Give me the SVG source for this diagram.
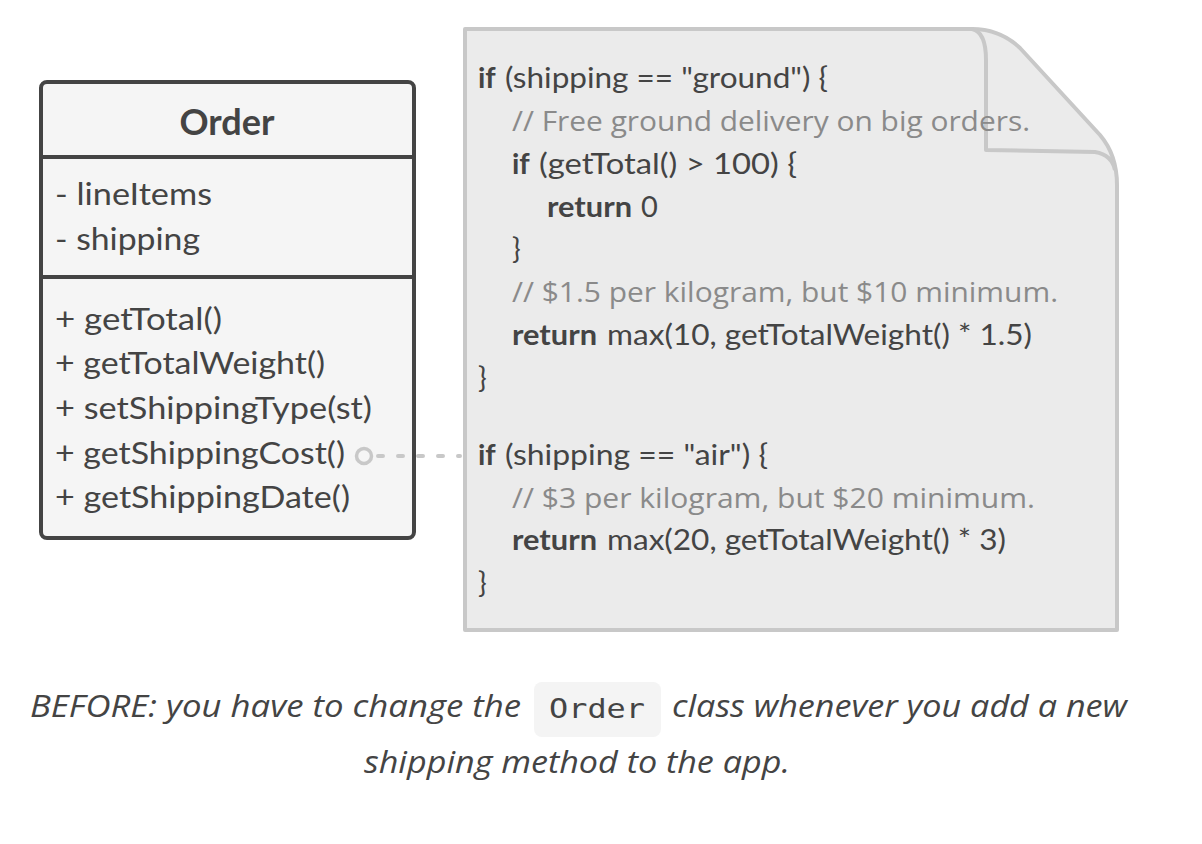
<svg xmlns="http://www.w3.org/2000/svg" width="1202" height="844" viewBox="0 0 1202 844">
<style>
.cls{fill:#f5f5f5;stroke:#444;stroke-width:4}
.t{font-family:Lato,"Noto Sans",sans-serif;font-size:29px;fill:#444}
.m{font-family:Lato,"Noto Sans",sans-serif;font-size:30px;fill:#444}
.b{font-weight:bold}
.title{font-size:37px}
.c{font-family:"Open Sans","Noto Sans",sans-serif;font-size:28px;fill:#8a8a8a}
.doc{fill:#ebebeb;stroke:#c8c8c8;stroke-width:4;stroke-linejoin:round}
.cap{font-family:"Open Sans","Noto Sans",sans-serif;font-style:italic;font-size:31px;fill:#444}
.mono{font-family:"DejaVu Sans Mono","Liberation Mono",monospace;font-size:27px;fill:#444}
</style>
<rect width="1202" height="844" fill="#ffffff"/>
<g id="order-class">
<rect class="cls" x="41" y="82" width="373" height="456" rx="6"/>
<line x1="41" y1="157" x2="414" y2="157" stroke="#444" stroke-width="4"/>
<line x1="41" y1="277" x2="414" y2="277" stroke="#444" stroke-width="4"/>
<text class="m b title" x="227" y="135" text-anchor="middle" textLength="95" lengthAdjust="spacingAndGlyphs">Order</text>
<text class="m" x="55" y="205" textLength="157" lengthAdjust="spacingAndGlyphs">- lineItems</text>
<text class="m" x="55" y="250" textLength="145" lengthAdjust="spacingAndGlyphs">- shipping</text>
<text class="m" x="55" y="330" textLength="167" lengthAdjust="spacingAndGlyphs">+ getTotal()</text>
<text class="m" x="55" y="374" textLength="270" lengthAdjust="spacingAndGlyphs">+ getTotalWeight()</text>
<text class="m" x="55" y="419" textLength="317" lengthAdjust="spacingAndGlyphs">+ setShippingType(st)</text>
<text class="m" x="55" y="464" textLength="290" lengthAdjust="spacingAndGlyphs">+ getShippingCost()</text>
<text class="m" x="55" y="508" textLength="295" lengthAdjust="spacingAndGlyphs">+ getShippingDate()</text>
</g>
<g id="code-note">
<path class="doc" d="M465,29 L972,29 Q1000,29 1020,48 L1100,135 Q1117,155 1117,185 L1117,630 L465,630 Z"/>
<path d="M972,29 Q986,32 986,60 L986,150 L1095,152 Q1112,155 1115,170" fill="none" stroke="#c8c8c8" stroke-width="4" stroke-linejoin="round"/>
<text class="t" y="88"><tspan class="b" x="478">if</tspan><tspan x="505" textLength="323" lengthAdjust="spacingAndGlyphs">(shipping == "ground") {</tspan></text>
<text class="c" x="512" y="131" textLength="518" lengthAdjust="spacingAndGlyphs">// Free ground delivery on big orders.</text>
<text class="t" y="174"><tspan class="b" x="512">if</tspan><tspan x="539" textLength="258" lengthAdjust="spacingAndGlyphs">(getTotal() &gt; 100) {</tspan></text>
<text class="t" y="217"><tspan class="b" x="547" textLength="85" lengthAdjust="spacingAndGlyphs">return</tspan><tspan x="641">0</tspan></text>
<text class="t" x="512" y="259">}</text>
<text class="c" x="512" y="302" textLength="546" lengthAdjust="spacingAndGlyphs">// $1.5 per kilogram, but $10 minimum.</text>
<text class="t" y="345"><tspan class="b" x="512" textLength="85" lengthAdjust="spacingAndGlyphs">return</tspan><tspan x="607" textLength="425" lengthAdjust="spacingAndGlyphs">max(10, getTotalWeight() * 1.5)</tspan></text>
<text class="t" x="478" y="388">}</text>
<text class="t" y="465"><tspan class="b" x="478">if</tspan><tspan x="505" textLength="263" lengthAdjust="spacingAndGlyphs">(shipping == "air") {</tspan></text>
<text class="c" x="512" y="508" textLength="523" lengthAdjust="spacingAndGlyphs">// $3 per kilogram, but $20 minimum.</text>
<text class="t" y="550"><tspan class="b" x="512" textLength="85" lengthAdjust="spacingAndGlyphs">return</tspan><tspan x="607" textLength="399" lengthAdjust="spacingAndGlyphs">max(20, getTotalWeight() * 3)</tspan></text>
<text class="t" x="478" y="593">}</text>
</g>
<g id="connectors">
<circle cx="364" cy="456" r="7.5" fill="none" stroke="#c8c8c8" stroke-width="3.5"/>
<line x1="378" y1="456" x2="460" y2="456" stroke="#c8c8c8" stroke-width="4" stroke-dasharray="5 15" stroke-linecap="round"/>
</g>
<g id="caption">
<rect x="534" y="682" width="127" height="55" rx="8" fill="#f4f4f4"/>
<text class="cap" x="30" y="717" textLength="491" lengthAdjust="spacingAndGlyphs">BEFORE: you have to change the</text>
<text class="mono" x="549" y="718" textLength="96" lengthAdjust="spacingAndGlyphs">Order</text>
<text class="cap" x="672" y="717" textLength="455" lengthAdjust="spacingAndGlyphs">class whenever you add a new</text>
<text class="cap" x="364" y="773" textLength="426" lengthAdjust="spacingAndGlyphs">shipping method to the app.</text>
</g>
</svg>
